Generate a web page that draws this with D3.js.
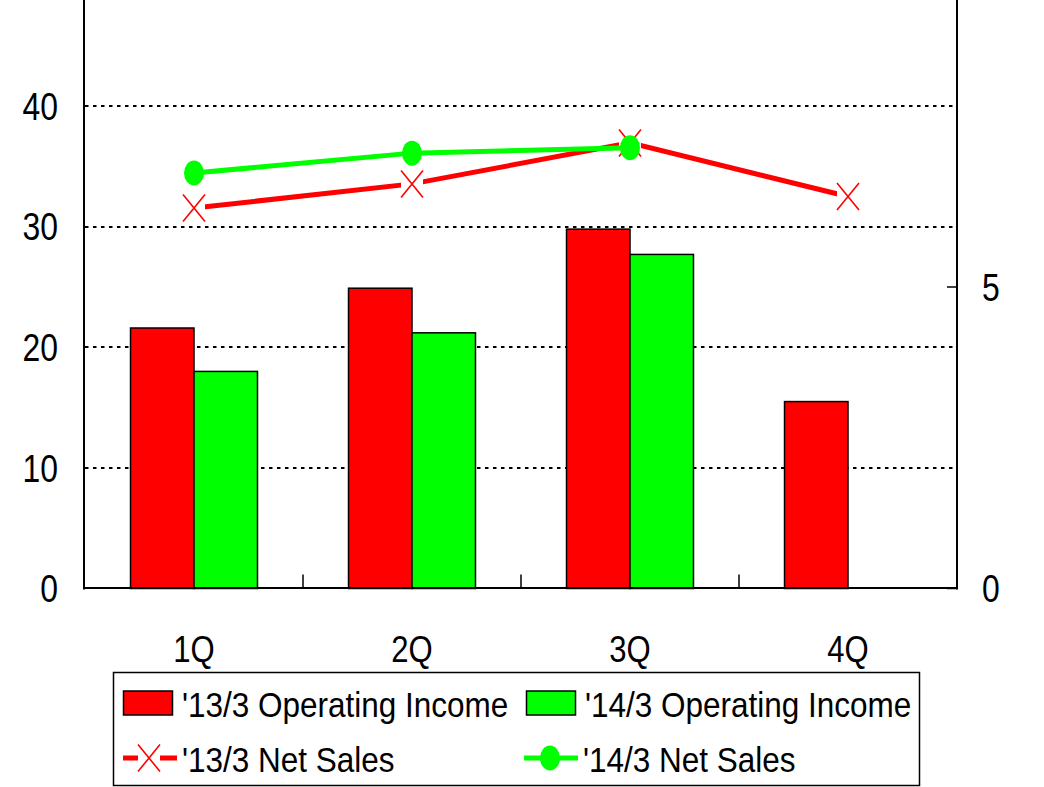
<!DOCTYPE html>
<html>
<head>
<meta charset="utf-8">
<script src="https://cdn.jsdelivr.net/npm/d3@7"></script>
<style>
  body { margin: 0; background: #fff; }
  svg { display: block; font-family: "Liberation Sans", Arial, sans-serif; }
</style>
</head>
<body>
<svg width="1044" height="787"></svg>
<script>
// data
var quarters = ["1Q", "2Q", "3Q", "4Q"];
var income13 = [21.6, 24.9, 29.8, 15.5];
var income14 = [18.0, 21.2, 27.7, null];
var sales13 = [6.31, 6.71, 7.39, 6.50];
var sales14 = [6.89, 7.22, 7.31, null];
var leftTicks = [0, 10, 20, 30, 40];
var rightTicks = [0, 5];
var gridTicks = [10, 20, 30, 40];

var svg = d3.select("svg");

// plot box (top sits just above the visible area)
var pLeft = 85, pRight = 957, pTop = -14.5, pBottom = 588.5;
var RED = "#ff0000", GREEN = "#00ff00";

var x0 = d3.scaleBand().domain(quarters).range([pLeft, pRight]);
var x1 = d3.scaleBand().domain(["13", "14"])
    .range([0, x0.bandwidth()])
    .paddingOuter(0.717);
var yL = d3.scaleLinear().domain([0, 50]).range([pBottom, pTop]);
var yR = d3.scaleLinear().domain([0, 10]).range([pBottom, pTop]);

// gridlines
svg.append("g").selectAll("line")
  .data(gridTicks)
  .enter().append("line")
    .attr("x1", pLeft).attr("x2", pRight - 2)
    .attr("y1", function(d) { return Math.round(yL(d)); })
    .attr("y2", function(d) { return Math.round(yL(d)); })
    .attr("stroke", "#000")
    .attr("stroke-width", 2)
    .attr("stroke-dasharray", "3.5,4.5");

// bars
var bars = [];
quarters.forEach(function(q, i) {
  bars.push({q: q, s: "13", v: income13[i], c: RED});
  if (income14[i] != null) bars.push({q: q, s: "14", v: income14[i], c: GREEN});
});
svg.append("g").selectAll("rect")
  .data(bars)
  .enter().append("rect")
    .attr("x", function(d) { return x0(d.q) + x1(d.s); })
    .attr("y", function(d) { return yL(d.v); })
    .attr("width", x1.bandwidth())
    .attr("height", function(d) { return pBottom - yL(d.v); })
    .attr("fill", function(d) { return d.c; })
    .attr("stroke", "#000")
    .attr("stroke-width", 1.5);

// axes lines
var axes = svg.append("g").attr("stroke", "#000").attr("stroke-width", 2);
axes.append("line").attr("x1", pLeft - 1).attr("x2", pLeft - 1).attr("y1", pTop).attr("y2", pBottom + 1);
axes.append("line").attr("x1", pRight).attr("x2", pRight).attr("y1", pTop).attr("y2", pBottom + 1);
axes.append("line").attr("x1", pLeft - 2).attr("x2", pRight + 1).attr("y1", pBottom - 0.5).attr("y2", pBottom - 0.5);

// category ticks (inward)
axes.selectAll(".ct")
  .data(quarters.slice(1))
  .enter().append("line")
    .attr("x1", function(d) { return x0(d); })
    .attr("x2", function(d) { return x0(d); })
    .attr("y1", pBottom).attr("y2", pBottom - 14)
    .attr("stroke-width", 1.5);

// right axis ticks (inward)
axes.selectAll(".rt")
  .data(rightTicks)
  .enter().append("line")
    .attr("x1", pRight).attr("x2", pRight - 10)
    .attr("y1", function(d) { return yR(d); })
    .attr("y2", function(d) { return yR(d); })
    .attr("stroke-width", 1.5);

// tick labels
svg.append("g").selectAll("text")
  .data(leftTicks)
  .enter().append("text")
    .attr("transform", function(d) { return "translate(58," + yL(d) + ") scale(0.84,1)"; })
    .attr("dy", "0.36em")
    .attr("text-anchor", "end")
    .attr("font-size", 38)
    .text(function(d) { return d; });

svg.append("g").selectAll("text")
  .data(rightTicks)
  .enter().append("text")
    .attr("transform", function(d) { return "translate(982," + yR(d) + ") scale(0.84,1)"; })
    .attr("dy", "0.36em")
    .attr("font-size", 38)
    .text(function(d) { return d; });

svg.append("g").selectAll("text")
  .data(quarters)
  .enter().append("text")
    .attr("transform", function(d) { return "translate(" + (x0(d) + x0.bandwidth() / 2) + ",662) scale(0.84,1)"; })
    .attr("text-anchor", "middle")
    .attr("font-size", 37)
    .text(function(d) { return d; });

// marker helpers
function xMark(g, cx, cy) {
  g.append("rect")
    .attr("x", cx - 11).attr("y", cy - 13.5)
    .attr("width", 22).attr("height", 27)
    .attr("fill", "#fff");
  g.append("path")
    .attr("d", "M" + (cx - 11) + "," + (cy - 13.5) + "L" + (cx + 11) + "," + (cy + 13.5) +
               "M" + (cx + 11) + "," + (cy - 13.5) + "L" + (cx - 11) + "," + (cy + 13.5))
    .attr("stroke", RED)
    .attr("stroke-width", 1.6)
    .attr("fill", "none");
}
function dotMark(g, cx, cy) {
  g.append("ellipse")
    .attr("cx", cx).attr("cy", cy)
    .attr("rx", 10).attr("ry", 12.5)
    .attr("fill", GREEN);
}

var cx = function(i) { return x0(quarters[i]) + x0.bandwidth() / 2; };
var line = d3.line()
    .defined(function(d) { return d != null; })
    .x(function(d, i) { return cx(i); })
    .y(function(d) { return yR(d); });

// '13/3 net sales
svg.append("path")
  .attr("d", line(sales13))
  .attr("fill", "none")
  .attr("stroke", RED)
  .attr("stroke-width", 5);
var m13 = svg.append("g");
sales13.forEach(function(d, i) { if (d != null) xMark(m13, cx(i), yR(d)); });

// '14/3 net sales
svg.append("path")
  .attr("d", line(sales14))
  .attr("fill", "none")
  .attr("stroke", GREEN)
  .attr("stroke-width", 5);
var m14 = svg.append("g");
sales14.forEach(function(d, i) { if (d != null) dotMark(m14, cx(i), yR(d)); });

// legend
var lg = svg.append("g");
lg.append("rect")
  .attr("x", 113.5).attr("y", 672.5)
  .attr("width", 806).attr("height", 113)
  .attr("fill", "#fff")
  .attr("stroke", "#000")
  .attr("stroke-width", 1.5);

var legendItems = [
  {label: "'13/3 Operating Income", type: "bar", c: RED, x: 123, y: 703},
  {label: "'14/3 Operating Income", type: "bar", c: GREEN, x: 526, y: 703},
  {label: "'13/3 Net Sales", type: "x", c: RED, x: 123, y: 758},
  {label: "'14/3 Net Sales", type: "dot", c: GREEN, x: 524, y: 758}
];
legendItems.forEach(function(it) {
  var g = lg.append("g");
  if (it.type === "bar") {
    g.append("rect")
      .attr("x", it.x + 0.5).attr("y", it.y - 12)
      .attr("width", 49).attr("height", 24)
      .attr("fill", it.c)
      .attr("stroke", "#000")
      .attr("stroke-width", 1.5);
  } else {
    g.append("line")
      .attr("x1", it.x).attr("x2", it.x + 54)
      .attr("y1", it.y).attr("y2", it.y)
      .attr("stroke", it.c)
      .attr("stroke-width", 5);
    if (it.type === "x") xMark(g, it.x + 26, it.y);
    else dotMark(g, it.x + 26, it.y);
  }
  g.append("text")
    .attr("transform", "translate(" + (it.x + 59) + "," + (it.y + 13.5) + ") scale(0.9,1)")
    .attr("font-size", 35)
    .text(it.label);
});
</script>
</body>
</html>
